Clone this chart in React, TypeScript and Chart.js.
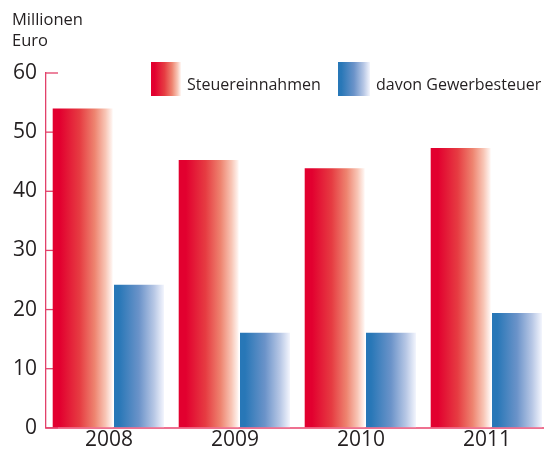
import React, { useEffect, useRef } from 'react';
import { Chart, registerables } from 'chart.js';

Chart.register(...registerables);

const categories = ['2008', '2009', '2010', '2011'];
const steuereinnahmen = [54.0, 45.3, 43.9, 47.3];
const gewerbesteuer = [24.2, 16.1, 16.1, 19.4];
const seriesNames = ['Steuereinnahmen', 'davon Gewerbesteuer'];
const unitTitle = ['Millionen', 'Euro'];
const yMin = 0;
const yMax = 60;
const yStep = 10;

const FONT = "'Open Sans', sans-serif";
const TEXT = '#231f20';
const AXIS_Y = '#e2416a';
const AXIS_X = '#ee7190';

const redStops: [number, string][] = [
  [0, '#e2002f'],
  [0.12, '#e2002f'],
  [0.45, '#e63c42'],
  [0.7, '#ee8470'],
  [0.88, '#f8c5b5'],
  [1, '#fff8f5'],
];
const blueStops: [number, string][] = [
  [0, '#2877b7'],
  [0.1, '#2877b7'],
  [0.5, '#6b93c9'],
  [0.8, '#b7c7e5'],
  [1, '#f3f5fd'],
];
const stopsBySeries = [redStops, blueStops];
// relative placement of each series' bar inside its category slot
const slots = [
  { start: 6.7 / 126, width: 60 / 126 },
  { start: 68 / 126, width: 50 / 126 },
];

function makeGradient(ctx: CanvasRenderingContext2D, l: number, r: number, stops: [number, string][]) {
  const g = ctx.createLinearGradient(l, 0, r, 0);
  stops.forEach(([o, c]) => g.addColorStop(o, c));
  return g;
}

function barExtent(chart: any, d: number, i: number): [number, number] {
  const x = chart.scales.x;
  const W = (chart.chartArea.right - chart.chartArea.left) / categories.length;
  const left = x.getPixelForTick(i) - W / 2 + slots[d].start * W;
  return [left, left + slots[d].width * W];
}

const barPlacement = {
  id: 'barPlacement',
  afterDatasetsUpdate(chart: any) {
    chart.data.datasets.forEach((_ds: any, d: number) => {
      const meta = chart.getDatasetMeta(d);
      meta.data.forEach((el: any, i: number) => {
        const [l, r] = barExtent(chart, d, i);
        el.x = (l + r) / 2;
        el.width = r - l;
      });
    });
  },
};

const innerTicks = {
  id: 'innerTicks',
  beforeDatasetsDraw(chart: any) {
    const y = chart.scales.y;
    const left = chart.chartArea.left;
    const ctx = chart.ctx;
    ctx.save();
    ctx.strokeStyle = AXIS_Y;
    ctx.lineWidth = 1.3;
    y.ticks.forEach((t: any) => {
      const py = y.getPixelForValue(t.value);
      ctx.beginPath();
      ctx.moveTo(left, py);
      ctx.lineTo(left + 12, py);
      ctx.stroke();
    });
    ctx.restore();
  },
};

const customLegend = {
  id: 'customLegend',
  afterDraw(chart: any) {
    const ctx = chart.ctx;
    const items = [
      { x: 151, w: 30, text: seriesNames[0], stops: redStops, tx: 187 },
      { x: 338, w: 32, text: seriesNames[1], stops: blueStops, tx: 376 },
    ];
    ctx.save();
    items.forEach((it) => {
      ctx.fillStyle = makeGradient(ctx, it.x, it.x + it.w, it.stops);
      ctx.fillRect(it.x, 62, it.w, 34);
      ctx.fillStyle = TEXT;
      ctx.font = `16px ${FONT}`;
      ctx.textBaseline = 'alphabetic';
      ctx.textAlign = 'left';
      ctx.fillText(it.text, it.tx, 89.5);
    });
    ctx.restore();
  },
};

export default function App() {
  const ref = useRef<HTMLCanvasElement | null>(null);
  useEffect(() => {
    if (!ref.current) return;
    const bg = (ctx: any) => {
      const chart = ctx.chart;
      const stops = stopsBySeries[ctx.datasetIndex];
      if (!chart.chartArea || ctx.type !== 'data') return stops[0][1];
      const [l, r] = barExtent(chart, ctx.datasetIndex, ctx.dataIndex);
      return makeGradient(chart.ctx, l, r, stops);
    };
    const chart = new Chart(ref.current, {
      type: 'bar',
      data: {
        labels: categories,
        datasets: [
          { label: seriesNames[0], data: steuereinnahmen, backgroundColor: bg, borderWidth: 0 },
          { label: seriesNames[1], data: gewerbesteuer, backgroundColor: bg, borderWidth: 0 },
        ],
      },
      options: {
        responsive: false,
        animation: false,
        layout: { padding: { left: 12, right: 0, top: 0, bottom: 0 } },
        plugins: {
          legend: { display: false },
          tooltip: { enabled: false },
          title: {
            display: true,
            text: unitTitle,
            align: 'start',
            color: TEXT,
            font: { family: FONT, size: 16.5, weight: 'normal', lineHeight: 21 / 16.5 },
            padding: { top: 10, bottom: 21 },
          },
        },
        scales: {
          x: {
            grid: { display: true, drawOnChartArea: false, drawTicks: false },
            border: { display: true, color: AXIS_X, width: 2 },
            ticks: { color: TEXT, font: { family: FONT, size: 21, lineHeight: 1.15 }, padding: 0 },
          },
          y: {
            min: yMin,
            max: yMax,
            afterFit: (s: any) => { s.width = 34; },
            grid: { display: true, drawOnChartArea: false, drawTicks: false },
            border: { display: true, color: AXIS_Y, width: 1.3 },
            ticks: { stepSize: yStep, color: TEXT, font: { family: FONT, size: 21 }, padding: 9 },
          },
        },
      },
      plugins: [barPlacement, innerTicks, customLegend],
    });
    return () => chart.destroy();
  }, []);
  return (
    <div style={{ position: 'absolute', left: 0, top: 0, width: 544, height: 452, overflow: 'hidden' }}>
      <canvas ref={ref} width={550} height={452} style={{ width: 550, height: 452 }} />
    </div>
  );
}
